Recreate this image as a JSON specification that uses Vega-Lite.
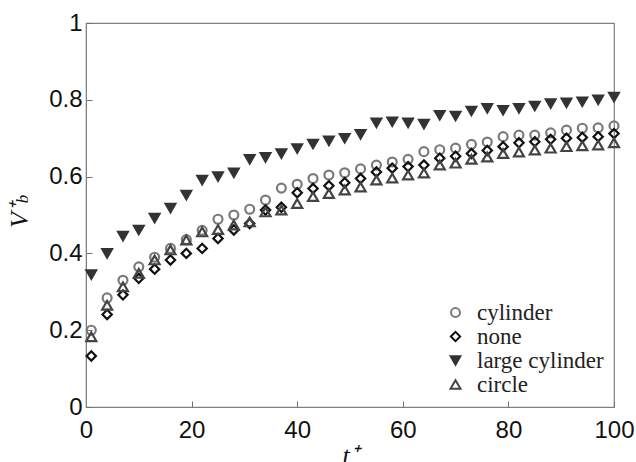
{
  "$schema": "https://vega.github.io/schema/vega-lite/v6.json",
  "width": 528,
  "height": 384,
  "autosize": {"type": "none"},
  "padding": {"left": 86, "top": 23, "right": 22, "bottom": 55},
  "background": "white",
  "title": {
    "text": "b", "orient": "left", "anchor": "middle", "font": "Liberation Serif", "fontStyle": "italic",
    "fontWeight": "normal", "fontSize": 17, "color": "#111111", "offset": -25, "dx": 16
  },
  "config": {
    "view": {"stroke": "#808080", "strokeWidth": 1.2}
  },
  "data": {
    "values": [
      {"t": 1, "s": "cylinder", "v": 0.200}, {"t": 4, "s": "cylinder", "v": 0.284}, {"t": 7, "s": "cylinder", "v": 0.330}, {"t": 10, "s": "cylinder", "v": 0.365},
      {"t": 13, "s": "cylinder", "v": 0.390}, {"t": 16, "s": "cylinder", "v": 0.413}, {"t": 19, "s": "cylinder", "v": 0.436}, {"t": 22, "s": "cylinder", "v": 0.460},
      {"t": 25, "s": "cylinder", "v": 0.489}, {"t": 28, "s": "cylinder", "v": 0.500}, {"t": 31, "s": "cylinder", "v": 0.515}, {"t": 34, "s": "cylinder", "v": 0.539},
      {"t": 37, "s": "cylinder", "v": 0.570}, {"t": 40, "s": "cylinder", "v": 0.580}, {"t": 43, "s": "cylinder", "v": 0.595}, {"t": 46, "s": "cylinder", "v": 0.604},
      {"t": 49, "s": "cylinder", "v": 0.610}, {"t": 52, "s": "cylinder", "v": 0.620}, {"t": 55, "s": "cylinder", "v": 0.630}, {"t": 58, "s": "cylinder", "v": 0.638},
      {"t": 61, "s": "cylinder", "v": 0.645}, {"t": 64, "s": "cylinder", "v": 0.665}, {"t": 67, "s": "cylinder", "v": 0.670}, {"t": 70, "s": "cylinder", "v": 0.674},
      {"t": 73, "s": "cylinder", "v": 0.684}, {"t": 76, "s": "cylinder", "v": 0.690}, {"t": 79, "s": "cylinder", "v": 0.704}, {"t": 82, "s": "cylinder", "v": 0.708},
      {"t": 85, "s": "cylinder", "v": 0.708}, {"t": 88, "s": "cylinder", "v": 0.714}, {"t": 91, "s": "cylinder", "v": 0.721}, {"t": 94, "s": "cylinder", "v": 0.726},
      {"t": 97, "s": "cylinder", "v": 0.727}, {"t": 100, "s": "cylinder", "v": 0.732},

      {"t": 1, "s": "none", "v": 0.133}, {"t": 4, "s": "none", "v": 0.241}, {"t": 7, "s": "none", "v": 0.292}, {"t": 10, "s": "none", "v": 0.335},
      {"t": 13, "s": "none", "v": 0.359}, {"t": 16, "s": "none", "v": 0.383}, {"t": 19, "s": "none", "v": 0.400}, {"t": 22, "s": "none", "v": 0.413},
      {"t": 25, "s": "none", "v": 0.439}, {"t": 28, "s": "none", "v": 0.461}, {"t": 31, "s": "none", "v": 0.478}, {"t": 34, "s": "none", "v": 0.513},
      {"t": 37, "s": "none", "v": 0.520}, {"t": 40, "s": "none", "v": 0.558}, {"t": 43, "s": "none", "v": 0.569}, {"t": 46, "s": "none", "v": 0.576},
      {"t": 49, "s": "none", "v": 0.584}, {"t": 52, "s": "none", "v": 0.595}, {"t": 55, "s": "none", "v": 0.612}, {"t": 58, "s": "none", "v": 0.622},
      {"t": 61, "s": "none", "v": 0.626}, {"t": 64, "s": "none", "v": 0.630}, {"t": 67, "s": "none", "v": 0.648}, {"t": 70, "s": "none", "v": 0.653},
      {"t": 73, "s": "none", "v": 0.660}, {"t": 76, "s": "none", "v": 0.668}, {"t": 79, "s": "none", "v": 0.678}, {"t": 82, "s": "none", "v": 0.688},
      {"t": 85, "s": "none", "v": 0.691}, {"t": 88, "s": "none", "v": 0.697}, {"t": 91, "s": "none", "v": 0.700}, {"t": 94, "s": "none", "v": 0.702},
      {"t": 97, "s": "none", "v": 0.704}, {"t": 100, "s": "none", "v": 0.712},

      {"t": 1, "s": "large cylinder", "v": 0.345}, {"t": 4, "s": "large cylinder", "v": 0.400}, {"t": 7, "s": "large cylinder", "v": 0.445}, {"t": 10, "s": "large cylinder", "v": 0.461},
      {"t": 13, "s": "large cylinder", "v": 0.492}, {"t": 16, "s": "large cylinder", "v": 0.518}, {"t": 19, "s": "large cylinder", "v": 0.552}, {"t": 22, "s": "large cylinder", "v": 0.591},
      {"t": 25, "s": "large cylinder", "v": 0.600}, {"t": 28, "s": "large cylinder", "v": 0.610}, {"t": 31, "s": "large cylinder", "v": 0.645}, {"t": 34, "s": "large cylinder", "v": 0.650},
      {"t": 37, "s": "large cylinder", "v": 0.660}, {"t": 40, "s": "large cylinder", "v": 0.673}, {"t": 43, "s": "large cylinder", "v": 0.685}, {"t": 46, "s": "large cylinder", "v": 0.693},
      {"t": 49, "s": "large cylinder", "v": 0.700}, {"t": 52, "s": "large cylinder", "v": 0.710}, {"t": 55, "s": "large cylinder", "v": 0.740}, {"t": 58, "s": "large cylinder", "v": 0.743},
      {"t": 61, "s": "large cylinder", "v": 0.740}, {"t": 64, "s": "large cylinder", "v": 0.737}, {"t": 67, "s": "large cylinder", "v": 0.760}, {"t": 70, "s": "large cylinder", "v": 0.758},
      {"t": 73, "s": "large cylinder", "v": 0.771}, {"t": 76, "s": "large cylinder", "v": 0.778}, {"t": 79, "s": "large cylinder", "v": 0.773}, {"t": 82, "s": "large cylinder", "v": 0.778},
      {"t": 85, "s": "large cylinder", "v": 0.784}, {"t": 88, "s": "large cylinder", "v": 0.790}, {"t": 91, "s": "large cylinder", "v": 0.792}, {"t": 94, "s": "large cylinder", "v": 0.795},
      {"t": 97, "s": "large cylinder", "v": 0.800}, {"t": 100, "s": "large cylinder", "v": 0.807},

      {"t": 1, "s": "circle", "v": 0.183}, {"t": 4, "s": "circle", "v": 0.265}, {"t": 7, "s": "circle", "v": 0.313}, {"t": 10, "s": "circle", "v": 0.348},
      {"t": 13, "s": "circle", "v": 0.383}, {"t": 16, "s": "circle", "v": 0.409}, {"t": 19, "s": "circle", "v": 0.435}, {"t": 22, "s": "circle", "v": 0.456},
      {"t": 25, "s": "circle", "v": 0.462}, {"t": 28, "s": "circle", "v": 0.474}, {"t": 31, "s": "circle", "v": 0.482}, {"t": 34, "s": "circle", "v": 0.508},
      {"t": 37, "s": "circle", "v": 0.513}, {"t": 40, "s": "circle", "v": 0.530}, {"t": 43, "s": "circle", "v": 0.548}, {"t": 46, "s": "circle", "v": 0.556},
      {"t": 49, "s": "circle", "v": 0.565}, {"t": 52, "s": "circle", "v": 0.573}, {"t": 55, "s": "circle", "v": 0.591}, {"t": 58, "s": "circle", "v": 0.596},
      {"t": 61, "s": "circle", "v": 0.604}, {"t": 64, "s": "circle", "v": 0.609}, {"t": 67, "s": "circle", "v": 0.630}, {"t": 70, "s": "circle", "v": 0.635},
      {"t": 73, "s": "circle", "v": 0.645}, {"t": 76, "s": "circle", "v": 0.651}, {"t": 79, "s": "circle", "v": 0.660}, {"t": 82, "s": "circle", "v": 0.664},
      {"t": 85, "s": "circle", "v": 0.669}, {"t": 88, "s": "circle", "v": 0.674}, {"t": 91, "s": "circle", "v": 0.678}, {"t": 94, "s": "circle", "v": 0.680},
      {"t": 97, "s": "circle", "v": 0.682}, {"t": 100, "s": "circle", "v": 0.688}
    ]
  },
  "mark": {"type": "point", "strokeWidth": 2.2, "opacity": 1},
  "encoding": {
    "x": {
      "field": "t", "type": "quantitative",
      "scale": {"domain": [0, 100], "nice": false},
      "axis": {
        "values": [0, 20, 40, 60, 80, 100], "grid": false, "domainColor": "#808080",
        "tickColor": "#707070", "tickSize": -6, "tickWidth": 1, "labelPadding": 17, "labelFlush": false,
        "labelFont": "Liberation Sans", "labelFontSize": 24, "labelColor": "#111111",
        "title": "t⁺", "titleFont": "Liberation Serif", "titleFontStyle": "italic", "titleFontWeight": "normal",
        "titleFontSize": 26, "titleColor": "#111111", "titlePadding": 0
      }
    },
    "y": {
      "field": "v", "type": "quantitative",
      "scale": {"domain": [0, 1], "nice": false},
      "axis": {
        "values": [0, 0.2, 0.4, 0.6, 0.8, 1], "format": "~g", "grid": false, "domainColor": "#808080",
        "tickColor": "#707070", "tickSize": -6, "tickWidth": 1, "labelPadding": 10, "labelFlush": false,
        "labelFont": "Liberation Sans", "labelFontSize": 24, "labelColor": "#111111",
        "title": "V⁺", "titleFont": "Liberation Serif", "titleFontStyle": "italic", "titleFontWeight": "normal",
        "titleFontSize": 26, "titleColor": "#111111", "titlePadding": 16
      }
    },
    "shape": {
      "field": "s", "type": "nominal",
      "scale": {"domain": ["cylinder", "none", "large cylinder", "circle"], "range": ["circle", "diamond", "triangle-down", "triangle-up"]},
      "legend": {
        "title": null, "orient": "bottom-right", "offset": 10, "padding": 0, "rowPadding": 0,
        "symbolStrokeWidth": 2, "labelFont": "Liberation Serif", "labelFontSize": 23,
        "labelColor": "#222222", "labelOffset": 10, "labelLimit": 300
      }
    },
    "stroke": {
      "field": "s", "type": "nominal",
      "scale": {"domain": ["cylinder", "none", "large cylinder", "circle"], "range": ["#7a7a7a", "#111111", "#333333", "#444444"]}
    },
    "fill": {
      "field": "s", "type": "nominal",
      "scale": {"domain": ["cylinder", "none", "large cylinder", "circle"], "range": ["transparent", "transparent", "#333333", "transparent"]}
    },
    "size": {
      "field": "s", "type": "nominal",
      "scale": {"domain": ["cylinder", "none", "large cylinder", "circle"], "range": [80, 100, 170, 110]}
    }
  }
}
